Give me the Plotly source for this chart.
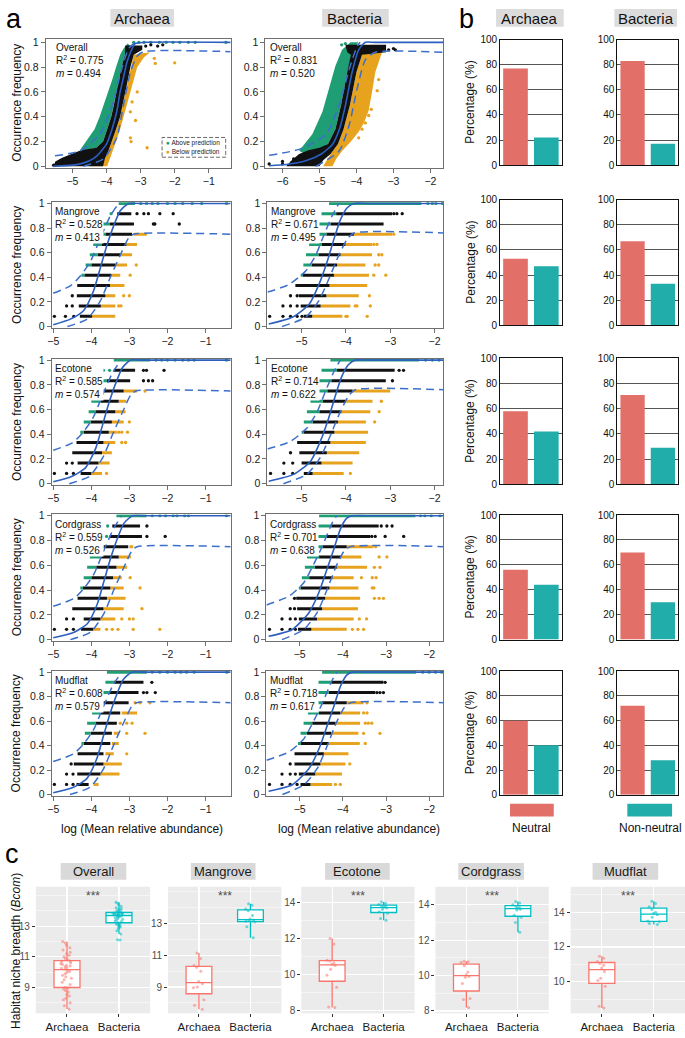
import plotly.graph_objects as go

W, H = 685, 1038
FONT = "Liberation Sans, Arial, Helvetica, sans-serif"

GREEN = "#1F9D74"
ORANGE = "#E7A21E"
DOTK = "#111111"
FITC = "#2C5FC0"
CIC = "#3C6FCC"
NEU = "#E26F68"
NON = "#21ADAA"
ARC = "#F8766D"
BAC = "#00BFC4"

# ---------------- panel a : text ----------------
HABITATS = ["Overall", "Mangrove", "Ecotone", "Cordgrass", "Mudflat"]
ARC_R2 = ["0.775", "0.528", "0.585", "0.559", "0.608"]
ARC_M = ["0.494", "0.413", "0.574", "0.526", "0.579"]
BAC_R2 = ["0.831", "0.671", "0.714", "0.701", "0.718"]
BAC_M = ["0.520", "0.495", "0.622", "0.638", "0.617"]

# occurrence levels (12 samples per habitat)
OCC = [0.083, 0.167, 0.25, 0.333, 0.417, 0.5, 0.583, 0.667, 0.75, 0.833, 0.917, 1.0]

# ---------------- panel a : overall clouds ----------------
ARC_ALL_GREEN_X = [-4.78, -4.6, -4.35, -4.2, -4.07, -3.95, -3.83, -3.72, -3.6, -3.5, -3.38, -3.3, -3.46, -3.56, -3.63, -3.71, -3.78, -3.86, -3.98, -4.1, -4.3, -4.6]
ARC_ALL_GREEN_Y = [0.13, 0.2, 0.3, 0.4, 0.5, 0.6, 0.7, 0.8, 0.9, 0.95, 0.99, 0.97, 0.9, 0.8, 0.7, 0.6, 0.5, 0.4, 0.3, 0.2, 0.15, 0.13]
ARC_ALL_BLACK_X = [-5.55, -5.5, -5.3, -5.0, -4.75, -4.3, -4.1, -3.98, -3.86, -3.78, -3.71, -3.63, -3.56, -3.46, -3.45, -3.45, -2.95, -2.95, -3.2, -3.3, -3.37, -3.45, -3.52, -3.6, -3.72, -3.84, -3.95, -4.05, -4.1]
ARC_ALL_BLACK_Y = [0.0, 0.04, 0.07, 0.1, 0.13, 0.15, 0.2, 0.3, 0.4, 0.5, 0.6, 0.7, 0.8, 0.9, 0.94, 0.975, 0.975, 0.94, 0.9, 0.8, 0.7, 0.6, 0.5, 0.4, 0.3, 0.2, 0.12, 0.06, 0.0]
ARC_ALL_ORANGE_X = [-4.5, -4.05, -3.95, -3.84, -3.72, -3.6, -3.52, -3.45, -3.37, -3.3, -3.2, -2.72, -2.9, -3.1, -3.2, -3.3, -3.4, -3.48, -3.6, -3.72, -3.85, -3.92, -3.98]
ARC_ALL_ORANGE_Y = [0.0, 0.06, 0.12, 0.2, 0.3, 0.4, 0.5, 0.6, 0.7, 0.8, 0.9, 0.92, 0.88, 0.8, 0.7, 0.6, 0.5, 0.4, 0.3, 0.2, 0.1, 0.04, 0.0]
ARC_ALL_DOT_K = [(-5.55, 0.01), (-5.3, 0.03), (-5.0, 0.05), (-2.85, 0.97), (-2.7, 0.98), (-2.5, 0.97), (-2.35, 0.98)]
ARC_ALL_DOT_O = [(-3.3, 0.23), (-3.28, 0.2), (-2.81, 0.15), (-2.0, 0.835), (-2.57, 0.83), (-2.6, 0.87), (-3.25, 0.52), (-3.3, 0.44), (-3.1, 0.6), (-3.15, 0.37), (-2.9, 0.9)]
ARC_ALL_DOT_G = [(-3.2, 1), (-3.05, 1), (-2.9, 1), (-2.7, 1), (-2.45, 1), (-2.25, 1), (-2.05, 1), (-1.85, 1), (-1.6, 1), (-1.4, 1), (-0.5, 1)]
ARC_ALL_FIT_X = [-5.56, -5.0, -4.77, -4.5, -4.28, -4.0, -3.85, -3.7, -3.6, -3.5, -3.4, -3.28, -3.16, -2.9, -0.36]
ARC_ALL_FIT_Y = [0.0, 0.01, 0.02, 0.045, 0.085, 0.18, 0.29, 0.44, 0.6, 0.72, 0.84, 0.93, 0.99, 1.0, 1.0]
ARC_ALL_UP_X = [-5.51, -4.77, -4.19, -3.8, -3.55, -3.35, -3.16]
ARC_ALL_UP_Y = [0.085, 0.125, 0.26, 0.52, 0.79, 0.95, 1.0]
ARC_ALL_LO_X = [-4.68, -4.09, -3.7, -3.5, -3.3, -3.1, -2.91, -0.36]
ARC_ALL_LO_Y = [0.0, 0.06, 0.23, 0.5, 0.76, 0.89, 0.925, 0.925]

BAC_ALL_GREEN_X = [-5.55, -5.19, -4.92, -4.74, -4.57, -4.39, -4.16, -3.95, -4.08, -4.25, -4.42, -4.57, -4.77, -5.1, -5.4]
BAC_ALL_GREEN_Y = [0.125, 0.26, 0.44, 0.63, 0.81, 0.94, 1.0, 1.0, 0.94, 0.76, 0.49, 0.3, 0.18, 0.12, 0.1]
BAC_ALL_BLACK_X = [-5.9, -5.75, -5.55, -5.3, -5.0, -4.77, -4.57, -4.42, -4.25, -4.15, -4.25, -4.3, -3.2, -3.2, -3.85, -4.0, -4.18, -4.35, -4.5, -4.7, -4.9, -5.0]
BAC_ALL_BLACK_Y = [0.0, 0.05, 0.1, 0.13, 0.15, 0.18, 0.3, 0.49, 0.76, 0.9, 0.92, 0.98, 0.98, 0.92, 0.9, 0.76, 0.49, 0.3, 0.18, 0.1, 0.05, 0.0]
BAC_ALL_ORANGE_X = [-4.9, -4.7, -4.5, -4.35, -4.18, -4.0, -3.85, -3.22, -3.31, -3.49, -3.58, -3.67, -3.8, -3.94, -4.15, -4.39, -4.55, -4.65]
BAC_ALL_ORANGE_Y = [0.0, 0.1, 0.18, 0.3, 0.49, 0.76, 0.9, 0.97, 0.92, 0.76, 0.6, 0.45, 0.35, 0.28, 0.2, 0.124, 0.06, 0.0]
BAC_ALL_DOT_K = [(-6.36, 0.02), (-6.0, 0.02), (-6.0, 0.04), (-5.75, 0.03), (-5.7, 0.06), (-3.13, 0.94), (-3.0, 0.95), (-2.95, 0.94)]
BAC_ALL_DOT_O = [(-3.76, 0.35), (-3.9, 0.36), (-3.67, 0.41), (-3.6, 0.46), (-3.44, 0.61), (-3.4, 0.7), (-3.94, 0.23), (-3.85, 0.3)]
BAC_ALL_DOT_G = [(-4.4, 0.98), (-4.3, 0.99)]
BAC_ALL_FIT_X = [-6.36, -5.9, -5.37, -4.95, -4.65, -4.45, -4.3, -4.12, -3.94, -3.76, -3.5, -1.65]
BAC_ALL_FIT_Y = [0.005, 0.015, 0.045, 0.1, 0.177, 0.31, 0.49, 0.757, 0.94, 1.0, 1.0, 1.0]
BAC_ALL_UP_X = [-6.36, -5.55, -4.83, -4.47, -4.2, -3.98, -3.9]
BAC_ALL_UP_Y = [0.09, 0.137, 0.256, 0.49, 0.78, 0.97, 1.0]
BAC_ALL_LO_X = [-5.1, -4.47, -4.2, -3.98, -3.76, -3.49, -1.65]
BAC_ALL_LO_Y = [0.0, 0.124, 0.33, 0.63, 0.86, 0.92, 0.92]

# ---------------- panel a : habitat rows (archaea) ----------------
AM_G = [None, None, None, None, (-4.26, -4.18), (-4.15, -4.0), (-4.04, -3.83), (-3.95, -3.72), (-3.87, -3.63), (-3.78, -3.51), None, (-3.28, -2.85)]
AM_K = [(-4.3, -3.98), (-4.33, -3.75), (-4.38, -3.63), (-4.37, -3.51), (-4.18, -3.48), (-4.0, -3.36), (-3.83, -3.23), (-3.72, -3.08), (-3.63, -2.93), (-3.51, -2.88), (-3.32, -2.95), None]
AM_O = [(-3.98, -3.37), (-3.75, -3.37), (-3.63, -3.37), (-3.51, -3.13), (-3.48, -3.24), (-3.36, -3.06), (-3.23, -2.93), (-3.08, -2.8), (-2.89, -2.54), None, None, None]
AM_DOT_K = [(-4.97, 0.083), (-4.68, 0.083), (-4.46, 0.083), (-4.65, 0.167), (-4.5, 0.167), (-4.5, 0.25), (-2.8, 0.917), (-2.62, 0.917), (-2.5, 0.917), (-2.2, 0.917), (-1.85, 0.917), (-2.37, 0.833), (-2.33, 0.833), (-1.69, 0.833)]
AM_DOT_O = [(-2.82, 0.5), (-2.98, 0.417), (-3.15, 0.25), (-3.0, 0.25), (-3.28, 0.167), (-3.22, 0.167)]
AM_DOT_G = [(-3.48, 0.917), (-2.7, 1), (-2.55, 1), (-2.4, 1), (-2.25, 1), (-2.0, 1), (-1.8, 1), (-1.6, 1), (-1.35, 1), (-1.1, 1), (-0.45, 1)]

AE_G = [None, None, None, None, (-4.29, -4.2), (-4.2, -4.02), (-4.07, -3.89), (-4.0, -3.76), (-3.85, -3.68), (-3.78, -3.59), None, (-3.41, -2.45)]
AE_K = [(-4.28, -4.0), (-4.36, -3.81), (-4.5, -3.72), (-4.39, -3.68), (-4.2, -3.54), (-4.02, -3.46), (-3.89, -3.37), (-3.76, -3.28), (-3.68, -3.15), (-3.59, -2.98), (-3.41, -2.85), None]
AE_O = [(-4.0, -3.72), (-3.81, -3.52), (-3.72, -3.46), (-3.68, -3.37), (-3.54, -3.33), (-3.46, -3.15), (-3.37, -3.1), (-3.28, -3.08), (-3.15, -2.8), None, None, None]
AE_DOT_K = [(-4.97, 0.083), (-4.65, 0.083), (-4.47, 0.083), (-4.65, 0.167), (-4.5, 0.167), (-2.63, 0.917), (-2.55, 0.917), (-2.09, 0.917), (-2.63, 0.833), (-2.5, 0.833), (-2.39, 0.833)]
AE_DOT_O = [(-2.59, 0.75), (-3.0, 0.5), (-3.28, 0.417), (-3.2, 0.417), (-3.05, 0.417), (-3.2, 0.333), (-3.1, 0.333), (-3.6, 0.083)]
AE_DOT_G = [(-3.68, 0.917), (-3.52, 0.917), (-2.3, 1), (-2.15, 1), (-2.0, 1), (-1.8, 1), (-1.6, 1), (-1.45, 1), (-1.3, 1), (-0.45, 1)]

AC_G = [None, None, None, None, (-4.29, -4.22), (-4.2, -4.0), (-4.11, -3.87), (-4.04, -3.76), (-3.95, -3.67), None, None, (-3.34, -2.55)]
AC_K = [(-4.27, -3.95), (-4.2, -3.76), (-4.5, -3.68), (-4.36, -3.59), (-4.22, -3.5), (-4.0, -3.43), (-3.87, -3.34), (-3.76, -3.28), (-3.67, -3.03), (-3.52, -2.67), (-3.45, -2.72), None]
AC_O = [(-3.95, -3.76), (-3.76, -3.37), (-3.68, -3.15), (-3.59, -3.1), (-3.5, -3.15), (-3.43, -3.2), (-3.34, -3.06), (-3.28, -2.96), (-3.0, -2.9), None, None, None]
AC_DOT_K = [(-4.97, 0.083), (-4.65, 0.083), (-4.47, 0.083), (-4.65, 0.167), (-4.47, 0.167), (-2.54, 0.917), (-2.54, 0.833), (-2.06, 0.833)]
AC_DOT_O = [(-3.6, 0.083), (-3.45, 0.083), (-3.3, 0.083), (-2.9, 0.083), (-2.2, 0.083), (-3.2, 0.167), (-3.0, 0.167), (-2.9, 0.167), (-2.67, 0.25), (-2.72, 0.417), (-2.98, 0.5)]
AC_DOT_G = [(-3.57, 0.917), (-3.6, 0.833), (-2.4, 1), (-2.2, 1), (-2.05, 1), (-1.85, 1), (-1.75, 1), (-1.55, 1), (-1.45, 1), (-0.45, 1)]

AF_G = [None, None, None, None, (-4.26, -4.2), (-4.17, -4.02), (-4.11, -3.89), (-3.98, -3.76), (-3.89, -3.67), (-3.72, -3.54), (-3.63, -3.41), (-3.59, -2.54)]
AF_K = [(-4.39, -4.07), (-4.37, -3.76), (-4.46, -3.68), (-4.36, -3.68), (-4.2, -3.5), (-4.02, -3.46), (-3.89, -3.33), (-3.76, -3.24), (-3.67, -3.02), (-3.54, -2.76), (-3.41, -2.63), None]
AF_O = [(-3.94, -3.81), (-3.76, -3.26), (-3.68, -3.2), (-3.63, -3.41), (-3.46, -3.28), (-3.41, -3.28), None, (-3.2, -2.8), None, None, None, None]
AF_DOT_K = [(-4.97, 0.083), (-4.65, 0.083), (-4.48, 0.083), (-4.65, 0.167), (-4.48, 0.167), (-4.53, 0.25), (-2.63, 0.833), (-2.54, 0.833), (-2.32, 0.833), (-2.41, 0.917)]
AF_DOT_O = [(-3.07, 0.5), (-2.59, 0.5), (-3.24, 0.583), (-3.07, 0.583), (-2.93, 0.583), (-2.85, 0.75), (-2.72, 0.75), (-2.46, 0.75), (-3.07, 0.333)]
AF_DOT_G = [(-2.4, 1), (-2.2, 1), (-2.0, 1), (-1.8, 1), (-1.65, 1), (-1.5, 1), (-1.3, 1), (-0.44, 1)]

ARC_FIT_Y = [0.015, 0.06, 0.13, 0.29, 0.48, 0.66, 0.82, 0.94, 1.0, 1.0, 1.0]
ARC_UP_Y = [0.27, 0.33, 0.41, 0.53, 0.72, 0.90, 1.0]
ARC_LO_Y = [0.0, 0.06, 0.21, 0.40, 0.58, 0.72, 0.75, 0.75]
AM_FIT_X = [-5.0, -4.55, -4.2, -3.94, -3.76, -3.59, -3.41, -3.24, -3.02, -2.7, -0.34]
AM_UP_X = [-5.0, -4.55, -4.29, -4.02, -3.76, -3.5, -3.28]
AM_LO_X = [-4.63, -4.11, -3.76, -3.5, -3.24, -3.02, -2.89, -0.34]
AE_FIT_X = [-5.0, -4.5, -4.15, -3.88, -3.7, -3.53, -3.35, -3.18, -2.97, -2.7, -0.34]
AE_UP_X = [-5.0, -4.5, -4.23, -3.96, -3.7, -3.44, -3.22]
AE_LO_X = [-4.58, -4.05, -3.7, -3.44, -3.18, -2.96, -2.83, -0.34]
AC_FIT_X = [-5.0, -4.45, -4.1, -3.84, -3.66, -3.49, -3.31, -3.14, -2.92, -2.6, -0.34]
AC_UP_X = [-5.0, -4.47, -4.2, -3.93, -3.67, -3.41, -3.2]
AC_LO_X = [-4.55, -4.02, -3.67, -3.41, -3.15, -2.93, -2.8, -0.34]
AF_FIT_X = [-5.0, -4.47, -4.12, -3.86, -3.68, -3.51, -3.33, -3.16, -2.94, -2.62, -0.34]
AF_UP_X = [-5.0, -4.48, -4.21, -3.94, -3.68, -3.42, -3.2]
AF_LO_X = [-4.56, -4.03, -3.68, -3.42, -3.16, -2.94, -2.81, -0.34]

# ---------------- panel a : habitat rows (bacteria) ----------------
BM_G = [None, None, None, None, (-5.02, -4.97), (-4.96, -4.77), (-4.9, -4.62), (-4.83, -4.55), (-4.74, -4.44), (-4.62, -4.35), (-4.55, -4.22), (-4.38, -2.3)]
BM_K = [(-4.95, -4.76), (-5.02, -4.57), (-5.06, -4.44), (-5.14, -4.37), (-4.97, -4.27), (-4.77, -4.2), (-4.62, -4.12), (-4.55, -4.01), (-4.44, -3.82), (-4.35, -3.15), (-4.22, -2.96), None]
BM_O = [(-4.76, -4.08), (-4.57, -3.9), (-4.44, -3.71), (-4.37, -3.52), (-4.27, -3.48), (-4.2, -3.56), (-4.12, -3.41), (-4.01, -3.41), (-3.82, -2.96), None, None, None]
BM_DOT_K = [(-5.72, 0.083), (-5.42, 0.083), (-5.25, 0.083), (-5.1, 0.083), (-4.99, 0.083), (-5.42, 0.167), (-5.25, 0.167), (-5.1, 0.167), (-5.25, 0.25), (-5.1, 0.25), (-2.92, 0.917), (-2.85, 0.917), (-2.73, 0.917)]
BM_DOT_O = [(-4.0, 0.083), (-3.97, 0.083), (-3.52, 0.083), (-3.79, 0.167), (-3.75, 0.167), (-3.45, 0.167), (-3.47, 0.25), (-3.37, 0.417), (-3.1, 0.417), (-3.34, 0.5), (-3.26, 0.5), (-3.26, 0.583), (-3.19, 0.583), (-3.37, 0.667), (-3.3, 0.667), (-2.92, 0.75)]
BM_DOT_G = [(-2.15, 1), (-2.05, 1), (-1.97, 1), (-1.82, 1)]

BE_G = [None, None, None, None, (-5.0, -4.95), (-4.95, -4.75), (-4.88, -4.6), (-4.8, -4.52), (-4.72, -4.42), (-4.62, -4.33), (-4.55, -4.2), (-4.35, -2.35)]
BE_K = [(-4.95, -4.75), (-5.0, -4.55), (-5.05, -4.43), (-5.1, -4.35), (-4.95, -4.26), (-4.75, -4.18), (-4.6, -4.1), (-4.52, -4.0), (-4.42, -3.85), (-4.33, -3.1), (-4.2, -2.9), None]
BE_O = [(-4.75, -4.05), (-4.55, -3.85), (-4.43, -3.7), (-4.35, -3.55), (-4.26, -3.5), (-4.18, -3.55), (-4.1, -3.45), (-4.0, -3.4), (-3.85, -3.0), None, None, None]
BE_DOT_K = [(-5.7, 0.083), (-5.4, 0.083), (-5.2, 0.083), (-5.4, 0.167), (-5.2, 0.167), (-5.25, 0.25), (-2.8, 0.917), (-2.7, 0.917), (-2.95, 0.833)]
BE_DOT_O = [(-3.9, 0.083), (-3.35, 0.5), (-3.25, 0.583), (-3.2, 0.667)]
BE_DOT_G = [(-2.2, 1), (-2.05, 1), (-1.9, 1)]

BC_G = [None, None, None, None, (-5.02, -4.98), (-4.95, -4.78), (-4.88, -4.65), (-4.83, -4.55), (-4.78, -4.47), (-4.7, -4.37), (-4.62, -4.27), (-4.55, -2.32)]
BC_K = [(-5.04, -4.73), (-5.02, -4.6), (-5.06, -4.48), (-5.08, -4.41), (-4.98, -4.31), (-4.78, -4.24), (-4.65, -4.14), (-4.55, -4.04), (-4.47, -3.91), (-4.37, -3.37), (-4.27, -3.17), None]
BC_O = [(-4.73, -3.91), (-4.6, -3.75), (-4.48, -3.65), (-4.41, -3.6), (-4.31, -3.64), (-4.24, -3.75), (-4.14, -3.44), (-4.04, -3.57), (-3.91, -3.29), None, None, None]
BC_DOT_K = [(-5.7, 0.083), (-5.41, 0.083), (-5.22, 0.083), (-5.1, 0.083), (-5.41, 0.167), (-5.22, 0.167), (-5.1, 0.167), (-5.22, 0.25), (-5.12, 0.25), (-5.12, 0.333), (-3.11, 0.917), (-2.98, 0.917), (-2.86, 0.917), (-3.33, 0.833), (-3.25, 0.833), (-3.02, 0.833), (-2.59, 0.833)]
BC_DOT_O = [(-3.78, 0.083), (-3.65, 0.083), (-3.52, 0.083), (-3.62, 0.167), (-3.45, 0.167), (-3.27, 0.333), (-3.16, 0.333), (-3.06, 0.333), (-3.32, 0.417), (-3.28, 0.417), (-3.57, 0.5), (-3.32, 0.5), (-3.23, 0.5), (-3.27, 0.583), (-3.14, 0.583), (-3.16, 0.667), (-2.98, 0.667), (-3.24, 0.75)]
BC_DOT_G = [(-2.2, 1), (-2.1, 1), (-1.95, 1), (-1.75, 1)]

BF_G = [None, None, None, None, (-5.04, -4.98), (-4.98, -4.83), (-4.91, -4.71), (-4.81, -4.56), (-4.71, -4.48), (-4.64, -4.33), (-4.65, -4.27), (-4.48, -2.3)]
BF_K = [(-4.98, -4.75), (-5.02, -4.64), (-5.12, -4.52), (-5.12, -4.44), (-4.98, -4.33), (-4.83, -4.27), (-4.71, -4.17), (-4.56, -4.06), (-4.48, -3.91), (-4.33, -3.25), (-4.27, -3.06), None]
BF_O = [(-4.75, -4.25), (-4.64, -4.02), (-4.52, -3.94), (-4.44, -3.87), (-4.33, -3.67), (-4.27, -3.64), (-4.17, -3.6), (-4.06, -3.6), (-3.91, -3.52), None, None, None]
BF_DOT_K = [(-5.7, 0.083), (-5.41, 0.083), (-5.22, 0.083), (-5.06, 0.083), (-5.41, 0.167), (-5.22, 0.167), (-5.1, 0.167), (-5.22, 0.25), (-3.02, 0.917), (-3.21, 0.833), (-3.14, 0.833), (-3.06, 0.833)]
BF_DOT_O = [(-4.17, 0.083), (-4.06, 0.083), (-3.84, 0.25), (-3.64, 0.417), (-3.48, 0.417), (-3.52, 0.5), (-3.14, 0.5), (-3.48, 0.583), (-3.41, 0.583), (-3.33, 0.583), (-3.52, 0.667), (-3.44, 0.667), (-3.44, 0.75)]
BF_DOT_G = [(-2.15, 1), (-2.0, 1), (-1.85, 1), (-1.71, 1)]

BM_FIT_X = [-5.74, -5.21, -4.83, -4.61, -4.42, -4.27, -4.12, -3.97, -3.82, -3.5, -1.8]
BM_FIT_Y = [0.02, 0.075, 0.18, 0.34, 0.53, 0.71, 0.87, 0.965, 1.0, 1.0, 1.0]
BM_UP_X = [-5.77, -5.29, -4.91, -4.68, -4.5, -4.31, -4.16]
BM_UP_Y = [0.28, 0.34, 0.45, 0.58, 0.74, 0.9, 1.0]
BM_LO_X = [-5.44, -4.91, -4.61, -4.38, -4.16, -3.97, -3.82, -1.8]
BM_LO_Y = [0.0, 0.075, 0.21, 0.39, 0.58, 0.71, 0.76, 0.76]
BE_FIT_X = [-5.74, -5.18, -4.8, -4.58, -4.39, -4.24, -4.09, -3.94, -3.79, -3.5, -1.8]
BE_UP_X = [-5.77, -5.26, -4.88, -4.65, -4.47, -4.28, -4.13]
BE_LO_X = [-5.41, -4.88, -4.58, -4.35, -4.13, -3.94, -3.79, -1.8]
BC_FIT_X = [-5.72, -5.18, -4.79, -4.56, -4.37, -4.21, -4.06, -3.91, -3.79, -3.5, -1.67]
BC_FIT_Y = [0.027, 0.08, 0.215, 0.376, 0.565, 0.73, 0.89, 0.98, 1.0, 1.0, 1.0]
BC_UP_X = [-5.77, -5.25, -4.91, -4.68, -4.48, -4.25, -4.14]
BC_UP_Y = [0.28, 0.35, 0.457, 0.605, 0.75, 0.94, 1.0]
BC_LO_X = [-5.41, -4.91, -4.6, -4.37, -4.17, -3.98, -3.83, -1.67]
BC_LO_Y = [0.0, 0.08, 0.215, 0.40, 0.58, 0.71, 0.75, 0.75]
BF_FIT_X = [-5.72, -5.17, -4.78, -4.55, -4.36, -4.2, -4.05, -3.9, -3.78, -3.5, -1.67]
BF_UP_X = [-5.77, -5.24, -4.9, -4.67, -4.47, -4.24, -4.13]
BF_LO_X = [-5.4, -4.9, -4.59, -4.36, -4.16, -3.97, -3.82, -1.67]

# ---------------- panel b : bars ----------------
BAR_CATS = ["Neutral", "Non-neutral"]
ARC_NEUTRAL = [77, 53, 58, 56, 60]
ARC_NONNEUTRAL = [22, 47, 42, 44, 40]
BAC_NEUTRAL = [83, 67, 71, 70, 72]
BAC_NONNEUTRAL = [17, 33, 29, 30, 28]

# ---------------- panel c : niche breadth ----------------
ARC_BCOM_OVERALL = [7.6, 7.8, 8.0, 8.2, 8.3, 8.45, 8.55, 8.7, 8.8, 8.9, 8.98, 9.02, 9.2, 9.35, 9.5, 9.6, 9.7, 9.8, 9.9, 10.0, 10.05, 10.12, 10.2, 10.25, 10.3, 10.35, 10.4, 10.45, 10.5, 10.55, 10.6, 10.68, 10.72, 10.8, 10.9, 11.0, 11.1, 11.2, 11.3, 11.45, 11.6, 11.75, 11.9, 12.0]
BAC_BCOM_OVERALL = [12.1, 12.12, 12.5, 12.7, 12.85, 12.95, 13.0, 13.05, 13.1, 13.15, 13.2, 13.25, 13.3, 13.35, 13.4, 13.45, 13.5, 13.55, 13.6, 13.62, 13.65, 13.68, 13.72, 13.74, 13.76, 13.78, 13.8, 13.82, 13.83, 13.84, 13.85, 13.86, 13.87, 13.92, 13.95, 14.0, 14.05, 14.1, 14.15, 14.2, 14.3, 14.4, 14.5, 14.57]
ARC_BCOM_MANGROVE = [7.6, 7.85, 8.2, 8.95, 9.0, 9.2, 9.35, 10.0, 10.25, 10.35, 10.8, 11.15]
BAC_BCOM_MANGROVE = [12.1, 12.8, 13.1, 13.14, 13.2, 13.22, 13.28, 13.5, 13.8, 13.92, 14.15, 14.25]
ARC_BCOM_ECOTONE = [8.18, 8.22, 9.3, 9.97, 10.3, 10.5, 10.58, 10.65, 10.75, 10.8, 11.7, 12.0]
BAC_BCOM_ECOTONE = [13.0, 13.1, 13.4, 13.47, 13.6, 13.68, 13.72, 13.78, 13.8, 13.88, 13.95, 14.02]
ARC_BCOM_CORDGRASS = [8.2, 8.65, 8.7, 9.55, 9.9, 9.95, 10.05, 10.2, 10.55, 10.75, 10.78, 10.8]
BAC_BCOM_CORDGRASS = [12.45, 13.0, 13.3, 13.4, 13.7, 13.75, 13.81, 13.85, 13.9, 14.0, 14.1, 14.18]
ARC_BCOM_MUDFLAT = [8.5, 8.6, 9.75, 10.08, 10.2, 10.6, 10.8, 10.95, 11.05, 11.17, 11.35, 11.47]
BAC_BCOM_MUDFLAT = [13.29, 13.35, 13.45, 13.49, 13.7, 13.85, 13.93, 14.0, 14.15, 14.31, 14.5, 14.62]
BCOM_TICKS = [[9, 11, 13], [9, 11, 13], [8, 10, 12, 14], [8, 10, 12, 14], [10, 12, 14]]
BCOM_SIG = ["***", "***", "***", "***", "***"]

fig = go.Figure()
LAY = {}
ANN = []
SHP = []
AXN = [0]


def axes(x0, x1, y0, y1, xr, yr, xkw, ykw):
    AXN[0] += 1
    i = AXN[0]
    s = "" if i == 1 else str(i)
    LAY["xaxis" + s] = dict(domain=[x0 / W, x1 / W], range=xr, anchor="y" + s, **xkw)
    LAY["yaxis" + s] = dict(domain=[1 - y1 / H, 1 - y0 / H], range=yr, anchor="x" + s, **ykw)
    return "x" + s, "y" + s


def a_xkw(ticks):
    return dict(tickvals=ticks, showline=True, mirror=True, linecolor="#707070", linewidth=1,
                ticks="outside", ticklen=4, tickcolor="#707070", showgrid=False, zeroline=False,
                tickfont=dict(size=10.5, color="#1a1a1a", family=FONT))


A_YKW = dict(tickvals=[0, 0.2, 0.4, 0.6, 0.8, 1], ticktext=["0", "0.2", "0.4", "0.6", "0.8", "1"],
             showline=True, mirror=True, linecolor="#707070", linewidth=1, ticks="outside", ticklen=4,
             tickcolor="#707070", showgrid=False, zeroline=False,
             tickfont=dict(size=10.5, color="#1a1a1a", family=FONT))


def rows(xa, ya, segs, color):
    xs, ys = [], []
    for lvl, s in zip(OCC, segs):
        if s is None:
            continue
        xs += [s[0], s[1], None]
        ys += [lvl, lvl, None]
    fig.add_trace(go.Scatter(x=xs, y=ys, mode="lines", line=dict(color=color, width=3),
                             xaxis=xa, yaxis=ya, hoverinfo="skip"))


def dots(xa, ya, pts, color):
    fig.add_trace(go.Scatter(x=[p[0] for p in pts], y=[p[1] for p in pts], mode="markers",
                             marker=dict(color=color, size=3.3, line_width=0),
                             xaxis=xa, yaxis=ya, hoverinfo="skip"))


def poly(xa, ya, px, py, color):
    fig.add_trace(go.Scatter(x=px, y=py, mode="lines", fill="toself", fillcolor=color,
                             line=dict(width=0, color=color), xaxis=xa, yaxis=ya, hoverinfo="skip"))


def curves(xa, ya, fx, fy, ux, uy, lx, ly):
    for cx, cy in ((ux, uy), (lx, ly)):
        fig.add_trace(go.Scatter(x=cx, y=cy, mode="lines",
                                 line=dict(color=CIC, width=1.5, dash="8px,5px", shape="spline", smoothing=0.6),
                                 xaxis=xa, yaxis=ya, hoverinfo="skip"))
    fig.add_trace(go.Scatter(x=fx, y=fy, mode="lines",
                             line=dict(color=FITC, width=1.6, shape="spline", smoothing=0.6),
                             xaxis=xa, yaxis=ya, hoverinfo="skip"))


def stats(xa, ya, name, r2, m, dx, dy):
    ANN.append(dict(xref=xa + " domain", yref=ya + " domain", x=dx, y=dy, xanchor="left", yanchor="top",
                    align="left", showarrow=False, bgcolor="white", borderpad=0,
                    text=name + "<br>R<sup>2</sup> = " + r2 + "<br><i>m</i> = " + m,
                    font=dict(size=10, color="#111", family=FONT)))


# ---- panel a geometry (pixel boxes) ----
A_ROWS = [(33, 163.5), (198.5, 325.5), (357, 484.5), (514.4, 642.3), (672.7, 799.0)]
YR_ALL = [-0.01, 1.03]
YR_HAB = [-0.01, 1.01]

# overall archaea
xa, ya = axes(42, 228, *A_ROWS[0], [-5.78, -0.36], YR_ALL, a_xkw([-5, -4, -3, -2, -1]), A_YKW)
poly(xa, ya, ARC_ALL_ORANGE_X, ARC_ALL_ORANGE_Y, ORANGE)
dots(xa, ya, ARC_ALL_DOT_O, ORANGE)
poly(xa, ya, ARC_ALL_GREEN_X, ARC_ALL_GREEN_Y, GREEN)
dots(xa, ya, ARC_ALL_DOT_G, GREEN)
poly(xa, ya, ARC_ALL_BLACK_X, ARC_ALL_BLACK_Y, DOTK)
dots(xa, ya, ARC_ALL_DOT_K, DOTK)
curves(xa, ya, ARC_ALL_FIT_X, ARC_ALL_FIT_Y, ARC_ALL_UP_X, ARC_ALL_UP_Y, ARC_ALL_LO_X, ARC_ALL_LO_Y)
stats(xa, ya, HABITATS[0], ARC_R2[0], ARC_M[0], 0.05, 0.98)
# overall legend
SHP.append(dict(type="rect", xref="paper", yref="paper", x0=159 / W, x1=223 / W, y0=1 - 153 / H, y1=1 - 133 / H,
                line=dict(color="#444", width=0.8, dash="4px,2px"), fillcolor="white"))
ANN.append(dict(xref="paper", yref="paper", x=161 / W, y=1 - 138.3 / H, xanchor="left", yanchor="middle",
                showarrow=False, font=dict(size=6.5, family=FONT, color="#222"),
                text="<span style='color:" + GREEN + "'>●</span> Above prediction"))
ANN.append(dict(xref="paper", yref="paper", x=161 / W, y=1 - 147.3 / H, xanchor="left", yanchor="middle",
                showarrow=False, font=dict(size=6.5, family=FONT, color="#222"),
                text="<span style='color:" + ORANGE + "'>●</span> Below prediction"))

# overall bacteria
xa, ya = axes(263, 442, *A_ROWS[0], [-6.46, -1.65], YR_ALL, a_xkw([-6, -5, -4, -3, -2]), A_YKW)
poly(xa, ya, BAC_ALL_ORANGE_X, BAC_ALL_ORANGE_Y, ORANGE)
dots(xa, ya, BAC_ALL_DOT_O, ORANGE)
poly(xa, ya, BAC_ALL_GREEN_X, BAC_ALL_GREEN_Y, GREEN)
dots(xa, ya, BAC_ALL_DOT_G, GREEN)
poly(xa, ya, BAC_ALL_BLACK_X, BAC_ALL_BLACK_Y, DOTK)
dots(xa, ya, BAC_ALL_DOT_K, DOTK)
curves(xa, ya, BAC_ALL_FIT_X, BAC_ALL_FIT_Y, BAC_ALL_UP_X, BAC_ALL_UP_Y, BAC_ALL_LO_X, BAC_ALL_LO_Y)
stats(xa, ya, HABITATS[0], BAC_R2[0], BAC_M[0], 0.02, 0.98)

ARC_HAB = [
    (AM_G, AM_K, AM_O, AM_DOT_G, AM_DOT_K, AM_DOT_O, AM_FIT_X, AM_UP_X, AM_LO_X),
    (AE_G, AE_K, AE_O, AE_DOT_G, AE_DOT_K, AE_DOT_O, AE_FIT_X, AE_UP_X, AE_LO_X),
    (AC_G, AC_K, AC_O, AC_DOT_G, AC_DOT_K, AC_DOT_O, AC_FIT_X, AC_UP_X, AC_LO_X),
    (AF_G, AF_K, AF_O, AF_DOT_G, AF_DOT_K, AF_DOT_O, AF_FIT_X, AF_UP_X, AF_LO_X),
]
BAC_HAB = [
    (BM_G, BM_K, BM_O, BM_DOT_G, BM_DOT_K, BM_DOT_O, BM_FIT_X, BM_FIT_Y, BM_UP_X, BM_UP_Y, BM_LO_X, BM_LO_Y, [-5.77, -1.8], 265),
    (BE_G, BE_K, BE_O, BE_DOT_G, BE_DOT_K, BE_DOT_O, BE_FIT_X, BM_FIT_Y, BE_UP_X, BM_UP_Y, BE_LO_X, BM_LO_Y, [-5.77, -1.8], 265),
    (BC_G, BC_K, BC_O, BC_DOT_G, BC_DOT_K, BC_DOT_O, BC_FIT_X, BC_FIT_Y, BC_UP_X, BC_UP_Y, BC_LO_X, BC_LO_Y, [-5.77, -1.67], 264),
    (BF_G, BF_K, BF_O, BF_DOT_G, BF_DOT_K, BF_DOT_O, BF_FIT_X, BC_FIT_Y, BF_UP_X, BC_UP_Y, BF_LO_X, BC_LO_Y, [-5.77, -1.67], 264),
]

for r in range(4):
    y0, y1 = A_ROWS[r + 1]
    G, K, O, DG, DK, DO, FX, UX, LX = ARC_HAB[r]
    xa, ya = axes(48, 228, y0, y1, [-5.04, -0.34], YR_HAB, a_xkw([-5, -4, -3, -2, -1]), A_YKW)
    rows(xa, ya, O, ORANGE); dots(xa, ya, DO, ORANGE)
    rows(xa, ya, K, DOTK); dots(xa, ya, DK, DOTK)
    rows(xa, ya, G, GREEN); dots(xa, ya, DG, GREEN)
    curves(xa, ya, FX, ARC_FIT_Y, UX, ARC_UP_Y, LX, ARC_LO_Y)
    stats(xa, ya, HABITATS[r + 1], ARC_R2[r + 1], ARC_M[r + 1], 0.012, 0.975)

    G, K, O, DG, DK, DO, FX, FY, UX, UY, LX, LY, XR, XL = BAC_HAB[r]
    xa, ya = axes(XL, 442, y0, y1, XR, YR_HAB, a_xkw([-5, -4, -3, -2]), A_YKW)
    rows(xa, ya, O, ORANGE); dots(xa, ya, DO, ORANGE)
    rows(xa, ya, K, DOTK); dots(xa, ya, DK, DOTK)
    rows(xa, ya, G, GREEN); dots(xa, ya, DG, GREEN)
    curves(xa, ya, FX, FY, UX, UY, LX, LY)
    stats(xa, ya, HABITATS[r + 1], BAC_R2[r + 1], BAC_M[r + 1], 0.012, 0.975)

# y titles panel a / b
A_CENTERS = [98, 262, 421, 578, 736]
for yc in A_CENTERS:
    ANN.append(dict(xref="paper", yref="paper", x=13 / W, y=1 - yc / H, xanchor="center", yanchor="middle",
                    textangle=-90, showarrow=False, text="Occurrence frequency",
                    font=dict(size=12, family=FONT, color="#111")))
for xc in (139, 357):
    ANN.append(dict(xref="paper", yref="paper", x=xc / W, y=1 - 833 / H, xanchor="center", yanchor="middle",
                    showarrow=False, text="log (Mean relative abundance)",
                    font=dict(size=12, family=FONT, color="#111")))

# ---------------- panel b ----------------
B_ROWS = [(34, 161), (196, 323), (356.5, 484), (515, 641), (673, 798)]
B_XKW = dict(showticklabels=False, showline=True, mirror=True, linecolor="#111", linewidth=1,
             ticks="", showgrid=False, zeroline=False)
B_YKW = dict(tickvals=[0, 20, 40, 60, 80, 100], showline=True, mirror=True, linecolor="#111", linewidth=1,
             ticks="", showgrid=True, gridcolor="#555", gridwidth=1, zeroline=False,
             tickfont=dict(size=10, family=FONT, color="#111"))
for r in range(5):
    y0, y1 = B_ROWS[r]
    for x0, x1, vals in ((499, 561, (ARC_NEUTRAL[r], ARC_NONNEUTRAL[r])),
                         (617, 678, (BAC_NEUTRAL[r], BAC_NONNEUTRAL[r]))):
        xa, ya = axes(x0, x1, y0, y1, [-0.5, 1.5], [0, 100], B_XKW, B_YKW)
        fig.add_trace(go.Bar(x=[0, 1], y=list(vals), width=0.8, marker=dict(color=[NEU, NON], line_width=0),
                             xaxis=xa, yaxis=ya, hoverinfo="skip"))
    ANN.append(dict(xref="paper", yref="paper", x=469 / W, y=1 - (y0 + y1) / 2 / H, xanchor="center",
                    yanchor="middle", textangle=-90, showarrow=False, text="Percentage (%)",
                    font=dict(size=12, family=FONT, color="#111")))

# bar legend
for (x0, x1, col, lab, xc) in ((509, 553, NEU, BAR_CATS[0], 531), (627, 672, NON, BAR_CATS[1], 650)):
    SHP.append(dict(type="rect", xref="paper", yref="paper", x0=x0 / W, x1=x1 / W, y0=1 - 820 / H, y1=1 - 807 / H,
                    line_width=0, fillcolor=col))
    ANN.append(dict(xref="paper", yref="paper", x=xc / W, y=1 - 832 / H, xanchor="center", yanchor="middle",
                    showarrow=False, text=lab, font=dict(size=12, family=FONT, color="#111")))

# ---------------- headers ----------------
for (x0, x1, lab) in ((107, 171, "Archaea"), (320, 387, "Bacteria"), (495, 563, "Archaea"), (614, 677, "Bacteria")):
    SHP.append(dict(type="rect", xref="paper", yref="paper", x0=x0 / W, x1=x1 / W, y0=1 - 21 / H, y1=1 - 3 / H,
                    line_width=0, fillcolor="#DCDCDC"))
    ANN.append(dict(xref="paper", yref="paper", x=(x0 + x1) / 2 / W, y=1 - 12.5 / H, xanchor="center",
                    yanchor="middle", showarrow=False, text=lab, font=dict(size=15, family=FONT, color="#111")))

for (x, y, lab) in ((10, 13, "a"), (465, 13, "b"), (8, 858, "c")):
    ANN.append(dict(xref="paper", yref="paper", x=x / W, y=1 - y / H, xanchor="center", yanchor="middle",
                    showarrow=False, text=lab, font=dict(size=27, family=FONT, color="#000")))

# ---------------- panel c ----------------
C_FACETS = [
    (32, 147, [7.32, 15.58], ARC_BCOM_OVERALL, BAC_BCOM_OVERALL, 57, 123),
    (165, 279, [7.35, 15.32], ARC_BCOM_MANGROVE, BAC_BCOM_MANGROVE, 188, 253),
    (299, 413, [7.87, 14.86], ARC_BCOM_ECOTONE, BAC_BCOM_ECOTONE, 323, 388),
    (434, 548, [7.87, 15.02], ARC_BCOM_CORDGRASS, BAC_BCOM_CORDGRASS, 457, 523),
    (570, 685, [8.2, 15.46], ARC_BCOM_MUDFLAT, BAC_BCOM_MUDFLAT, 592, 658),
]
for i, (x0, x1, yr, av, bv, s0, s1) in enumerate(C_FACETS):
    xkw = dict(tickvals=[1, 2], ticktext=["Archaea", "Bacteria"], showgrid=True, gridcolor="white", gridwidth=1.2,
               zeroline=False, showline=False, ticks="outside", ticklen=3, tickcolor="#333",
               tickfont=dict(size=11.5, family=FONT, color="#1a1a1a"))
    ykw = dict(tickvals=BCOM_TICKS[i], showgrid=True, gridcolor="white", gridwidth=1.2, zeroline=False,
               showline=False, ticks="outside", ticklen=3, tickcolor="#333",
               minor=dict(dtick=1, tick0=0, showgrid=True, gridcolor="white", gridwidth=0.5, ticks=""),
               tickfont=dict(size=10, family=FONT, color="#4D4D4D"))
    xa, ya = axes(x0, x1, 891, 1019, [0.4, 2.6], yr, xkw, ykw)
    SHP.append(dict(type="rect", xref=xa + " domain", yref=ya + " domain", x0=0, x1=1, y0=0, y1=1,
                    line_width=0, fillcolor="#EBEBEB", layer="below"))
    for pos, vals, col in ((1, av, ARC), (2, bv, BAC)):
        fig.add_trace(go.Box(x=[pos] * len(vals), y=vals, width=0.5, boxpoints="all", jitter=0.55, pointpos=0,
                             whiskerwidth=0, fillcolor="white", line=dict(color=col, width=1.3),
                             marker=dict(color=col, size=3, opacity=0.55), xaxis=xa, yaxis=ya,
                             hoverinfo="skip"))
    SHP.append(dict(type="rect", xref="paper", yref="paper", x0=s0 / W, x1=s1 / W, y0=1 - 884 / H, y1=1 - 867 / H,
                    line_width=0, fillcolor="#D9D9D9"))
    ANN.append(dict(xref="paper", yref="paper", x=(s0 + s1) / 2 / W, y=1 - 875.5 / H, xanchor="center",
                    yanchor="middle", showarrow=False, text=HABITATS[i],
                    font=dict(size=13, family=FONT, color="#1a1a1a")))
    ANN.append(dict(xref=xa + " domain", yref=ya + " domain", x=0.5, y=0.93, xanchor="center", yanchor="middle",
                    showarrow=False, text=BCOM_SIG[i], font=dict(size=12, family=FONT, color="#4D4D4D")))

ANN.append(dict(xref="paper", yref="paper", x=12 / W, y=1 - 956 / H, xanchor="center", yanchor="middle",
                textangle=-90, showarrow=False, text="Habitat niche breadth (<i>Bcom</i>)",
                font=dict(size=12, family=FONT, color="#111")))

fig.update_layout(width=W, height=H, margin=dict(l=0, r=0, t=0, b=0), paper_bgcolor="white",
                  plot_bgcolor="white", showlegend=False, annotations=ANN, shapes=SHP,
                  font=dict(family=FONT), **LAY)
fig.write_html("out.html", config={"displayModeBar": False, "staticPlot": True},
               post_script="document.body.style.margin='0';document.body.style.padding='0';"
                           "document.documentElement.style.overflow='hidden';")
